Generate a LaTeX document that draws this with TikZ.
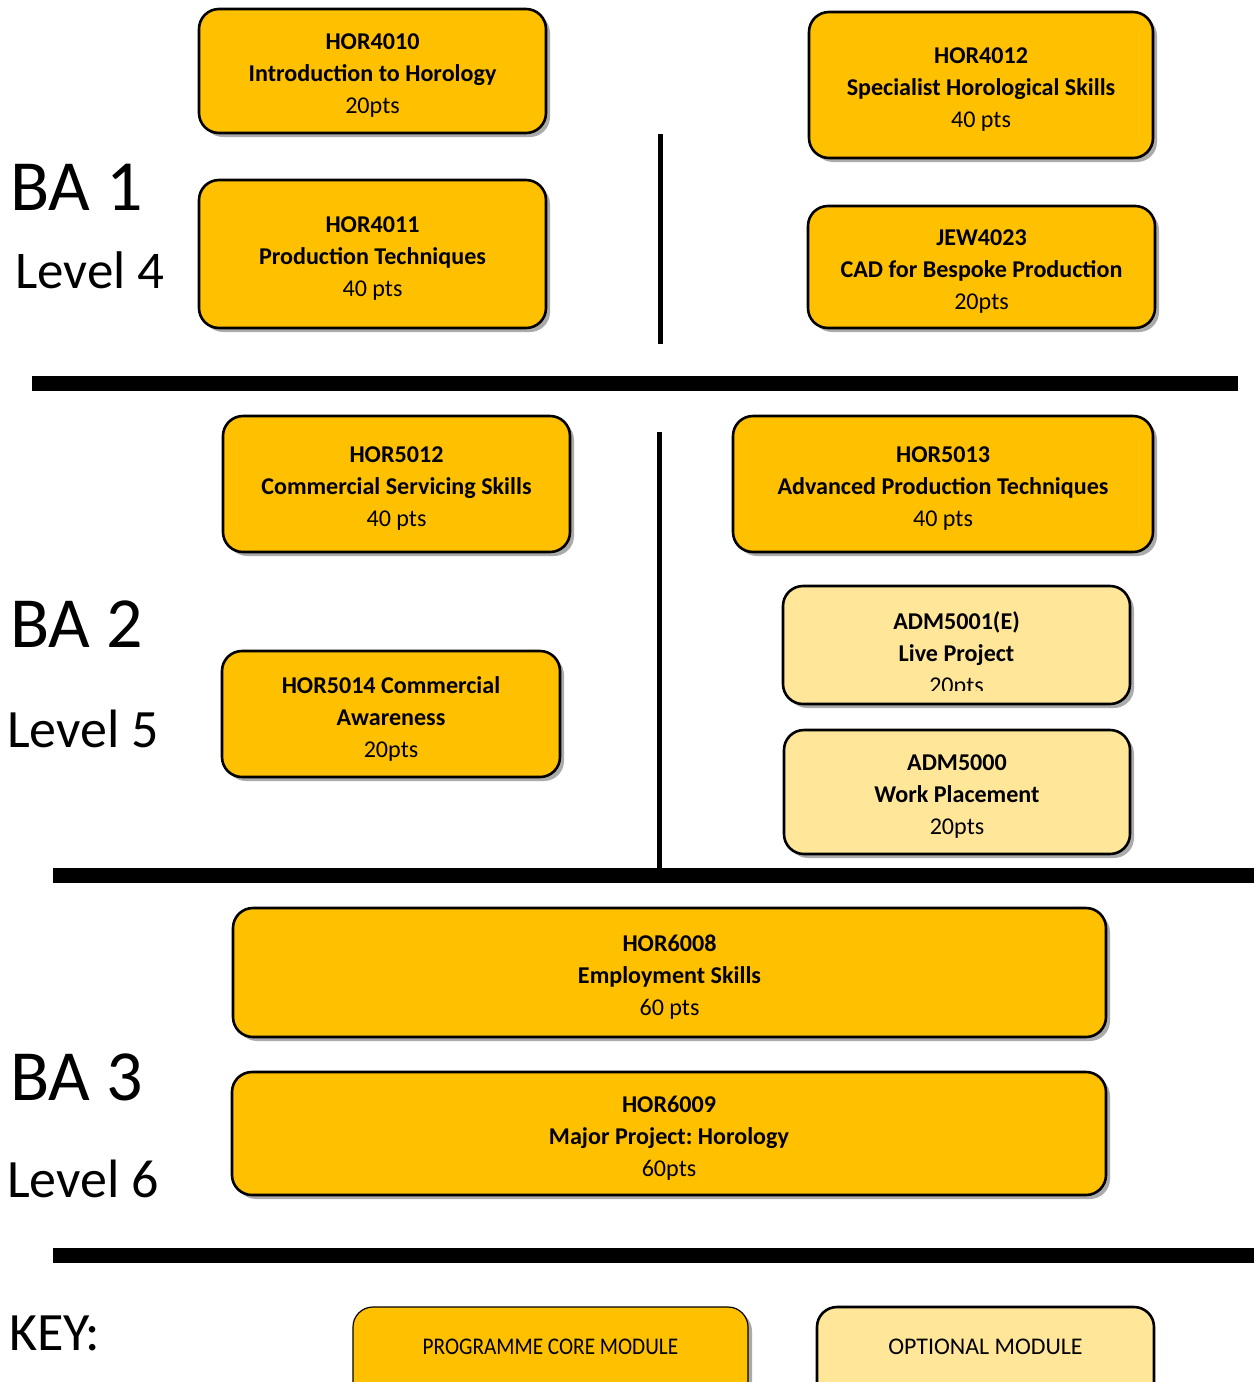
\documentclass[tikz,border=0pt]{standalone}
\usepackage{fontspec}
\setmainfont{Carlito}
\frenchspacing
\usetikzlibrary{shadows}
\definecolor{core}{HTML}{FFC000}
\definecolor{opt}{HTML}{FFE699}
\tikzset{
  box/.style={draw=black, line width=2.6pt, rounded corners=20pt, inner sep=0pt,
    drop shadow={shadow xshift=4pt, shadow yshift=-4pt, fill=black, opacity=0.33}},
  corebox/.style={box, fill=core},
  optbox/.style={box, fill=opt},
  keycore/.style={draw=black, line width=1.2pt, rounded corners=20pt, fill=core,
    drop shadow={shadow xshift=4pt, shadow yshift=-4pt, fill=black, opacity=0.33}},
  keyopt/.style={draw=black, line width=2.6pt, rounded corners=20pt, fill=opt},
  keytext/.style={font=\fontsize{23.9}{28}\selectfont, inner sep=0pt},
  bigtxt/.style={anchor=base west, inner sep=0pt, font=\fontsize{72}{80}\selectfont},
  lvltxt/.style={anchor=base west, inner sep=0pt, font=\fontsize{54}{60}\selectfont},
  bar/.style={line width=15pt},
  vbar/.style={line width=5pt},
  boxtext/.style={align=center, inner sep=0pt, font=\fontsize{24.1}{32}\selectfont}
}
% \modbox{name}{style}{x}{y}{w}{h}{text}
\newcommand{\modbox}[7]{%
  \node[#2, minimum width=#5pt, minimum height=#6pt] (#1) at (#3,#4) {};
  \node[boxtext, yshift=-4.5pt] (#1-t) at (#1.center) {#7};
}
\begin{document}
\begin{tikzpicture}[x=1pt,y=-1pt]
\useasboundingbox[fill=white] (0,0) rectangle (1254,1382);

% BA 1
\modbox{h4010}{corebox}{372.5}{71}{347}{124}{\textbf{HOR4010}\\\textbf{Introduction to Horology}\\20pts}
\modbox{h4011}{corebox}{372.5}{254}{347}{148}{\textbf{HOR4011}\\\textbf{Production Techniques}\\40 pts}
\modbox{h4012}{corebox}{981}{85}{344}{146}{\textbf{HOR4012}\\\textbf{Specialist Horological Skills}\\40 pts}
\modbox{j4023}{corebox}{981.5}{267}{347}{122}{\textbf{JEW4023}\\\textbf{CAD for Bespoke Production}\\20pts}

\coordinate (v1t) at (660,134);
\coordinate (v1b) at (660,344);
\draw[vbar] (v1t) -- (v1b);

\coordinate (b1l) at (32,383);
\coordinate (b1r) at (1238,383);
\draw[bar] (b1l) -- (b1r);

\node[bigtxt] (ba1) at (10,210) {BA 1};
\node[lvltxt, font=\fontsize{53}{60}\selectfont] (lv4) at (15,288) {Level 4};

% BA 2
\modbox{h5012}{corebox}{396.5}{484}{347}{136}{\textbf{HOR5012}\\\textbf{Commercial Servicing Skills}\\40 pts}
\modbox{h5013}{corebox}{943}{484}{420}{136}{\textbf{HOR5013}\\\textbf{Advanced Production Techniques}\\40 pts}
\node[optbox, minimum width=347pt, minimum height=118pt] (a5001) at (956.5,645) {};
\begin{scope}
  \clip (780,590) rectangle (1130,690.5);
  \node[boxtext, yshift=-4.5pt] (a5001-t) at (956.5,650) {\textbf{ADM5001(E)}\\\textbf{Live Project}\\20pts};
\end{scope}
\modbox{h5014}{corebox}{391}{714}{338}{126}{\textbf{HOR5014 Commercial}\\\textbf{Awareness}\\20pts}
\modbox{a5000}{optbox}{957}{792}{346}{124}{\textbf{ADM5000}\\\textbf{Work Placement}\\20pts}

\coordinate (v2t) at (659,432);
\coordinate (v2b) at (659,870);
\draw[vbar] (v2t) -- (v2b);

\coordinate (b2l) at (53,875.5);
\coordinate (b2r) at (1254,875.5);
\draw[bar] (b2l) -- (b2r);

\node[bigtxt] (ba2) at (10,647) {BA 2};
\node[lvltxt] (lv5) at (7,747) {Level 5};

% BA 3
\modbox{h6008}{corebox}{669.5}{972.5}{873}{129}{\textbf{HOR6008}\\\textbf{Employment Skills}\\60 pts}
\modbox{h6009}{corebox}{669}{1133.5}{874}{123}{\textbf{HOR6009}\\\textbf{Major Project: Horology}\\60pts}

\coordinate (b3l) at (53,1255.5);
\coordinate (b3r) at (1254,1255.5);
\draw[bar] (b3l) -- (b3r);

\node[bigtxt] (ba3) at (10,1100) {BA 3};
\node[lvltxt] (lv6) at (7,1197) {Level 6};

% Key
\node[lvltxt] (key) at (9,1350) {KEY:};
\node[keycore, minimum width=395pt, minimum height=100pt] (kcore) at (550.5,1357) {};
\node[keytext] (kcore-t) at (550.5,1347) {\scalebox{0.89}[1]{PROGRAMME CORE MODULE}};
\node[keyopt, minimum width=337pt, minimum height=100pt] (kopt) at (985.5,1357) {};
\node[keytext] (kopt-t) at (985.5,1347) {OPTIONAL MODULE};
\end{tikzpicture}
\end{document}
